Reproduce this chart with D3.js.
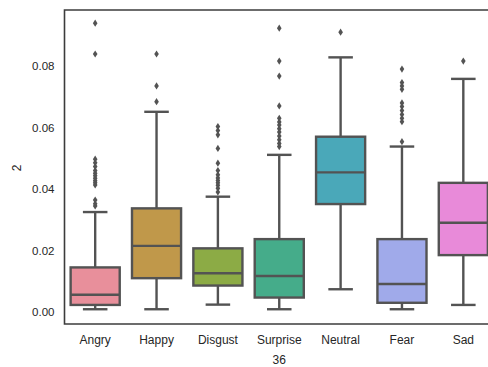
<!DOCTYPE html>
<html>
<head>
<meta charset="utf-8">
<script src="https://cdn.jsdelivr.net/npm/d3@7"></script>
<style>
  html, body { margin: 0; padding: 0; background: #ffffff; }
  svg text { font-family: Arial, "Liberation Sans", sans-serif; fill: #262626; }
</style>
</head>
<body>
<svg id="chart" width="488" height="367"></svg>
<script>
// Categories (x axis "36") and box statistics of feature "2"
const categories = ["Angry", "Happy", "Disgust", "Surprise", "Neutral", "Fear", "Sad"];
const whiskerLow  = [0.0009, 0.0009, 0.0024, 0.0009, 0.0074, 0.0009, 0.0023];
const q1          = [0.0023, 0.0110, 0.0086, 0.0047, 0.0351, 0.0030, 0.0185];
const medians     = [0.0056, 0.0215, 0.0126, 0.0117, 0.0454, 0.0091, 0.0290];
const q3          = [0.0145, 0.0337, 0.0207, 0.0237, 0.0570, 0.0237, 0.0420];
const whiskerHigh = [0.0325, 0.0651, 0.0375, 0.0511, 0.0828, 0.0538, 0.0758];
const outliers = [
  [0.0939, 0.0839, 0.0497, 0.0485, 0.0473, 0.0460, 0.0451, 0.0443, 0.0435, 0.0427, 0.0420, 0.0413, 0.0364, 0.0352, 0.0345],
  [0.0839, 0.0735, 0.0684],
  [0.0603, 0.0590, 0.0576, 0.0532, 0.0484, 0.0460, 0.0446, 0.0436, 0.0428, 0.0420, 0.0412, 0.0402, 0.0390],
  [0.0923, 0.0816, 0.0767, 0.0670, 0.0630, 0.0618, 0.0608, 0.0596, 0.0585, 0.0572, 0.0560, 0.0548, 0.0538],
  [0.0910],
  [0.0790, 0.0746, 0.0735, 0.0724, 0.0680, 0.0668, 0.0655, 0.0642, 0.0630, 0.0619, 0.0554],
  [0.0816]
];
const colors = ["#e88f9b", "#c0984a", "#8cab45", "#45ac8a", "#4aa8b9", "#a0aaea", "#e88ad9"];
const yTicks = [0.00, 0.02, 0.04, 0.06, 0.08];

const svg = d3.select("#chart");
const margin = { left: 64.5, top: 10, right: 494, bottom: 324 };
const lineColor = "#535353";
const lw = 2.4;

const x = d3.scaleBand()
  .domain(categories)
  .range([margin.left, margin.right])
  .paddingInner(0.2)
  .paddingOuter(0.1);

const y = d3.scaleLinear()
  .domain([-0.0039, 0.0982])
  .range([margin.bottom, margin.top]);

// Axes: labels only, no tick marks
const yAxis = svg.append("g")
  .attr("transform", `translate(${margin.left},0)`)
  .call(d3.axisLeft(y).tickValues(yTicks).tickFormat(d3.format(".2f")).tickSize(0).tickPadding(10));
yAxis.select(".domain").remove();
yAxis.selectAll("text").attr("font-size", 11.5).style("fill", "#262626");

const xAxis = svg.append("g")
  .attr("transform", `translate(0,${margin.bottom})`)
  .call(d3.axisBottom(x).tickSize(0).tickPadding(11));
xAxis.select(".domain").remove();
xAxis.selectAll("text").attr("font-size", 12).style("fill", "#262626");

// Axis titles
svg.append("text")
  .attr("x", x("Surprise") + x.bandwidth() / 2)
  .attr("y", 364)
  .attr("text-anchor", "middle")
  .attr("font-size", 12)
  .text("36");
svg.append("text")
  .attr("transform", "translate(21,168) rotate(-90)")
  .attr("text-anchor", "middle")
  .attr("font-size", 12)
  .text("2");

// Boxes
const bw = x.bandwidth();
categories.forEach((c, i) => {
  const g = svg.append("g");
  const cx = x(c) + bw / 2;
  const capW = bw / 2;
  // whiskers
  g.append("line").attr("x1", cx).attr("x2", cx)
    .attr("y1", y(q3[i])).attr("y2", y(whiskerHigh[i]))
    .attr("stroke", lineColor).attr("stroke-width", lw);
  g.append("line").attr("x1", cx).attr("x2", cx)
    .attr("y1", y(q1[i])).attr("y2", y(whiskerLow[i]))
    .attr("stroke", lineColor).attr("stroke-width", lw);
  // caps
  [whiskerHigh[i], whiskerLow[i]].forEach(v => {
    g.append("line").attr("x1", cx - capW / 2).attr("x2", cx + capW / 2)
      .attr("y1", y(v)).attr("y2", y(v))
      .attr("stroke", lineColor).attr("stroke-width", lw);
  });
  // box
  g.append("rect")
    .attr("x", x(c)).attr("width", bw)
    .attr("y", y(q3[i])).attr("height", y(q1[i]) - y(q3[i]))
    .attr("fill", colors[i])
    .attr("stroke", lineColor).attr("stroke-width", lw);
  // median
  g.append("line").attr("x1", x(c)).attr("x2", x(c) + bw)
    .attr("y1", y(medians[i])).attr("y2", y(medians[i]))
    .attr("stroke", lineColor).attr("stroke-width", lw);
  // fliers
  g.selectAll("path.flier").data(outliers[i]).join("path")
    .attr("class", "flier")
    .attr("d", "M0,-3.6L2.3,0L0,3.6L-2.3,0Z")
    .attr("transform", d => `translate(${cx},${y(d)})`)
    .attr("fill", lineColor);
});

// Frame (right spine falls outside the canvas)
svg.append("path")
  .attr("d", `M${margin.right},${margin.top}H${margin.left}V${margin.bottom}H${margin.right}`)
  .attr("fill", "none")
  .attr("stroke", "#3c3c3c")
  .attr("stroke-width", 1.6);
</script>
</body>
</html>
